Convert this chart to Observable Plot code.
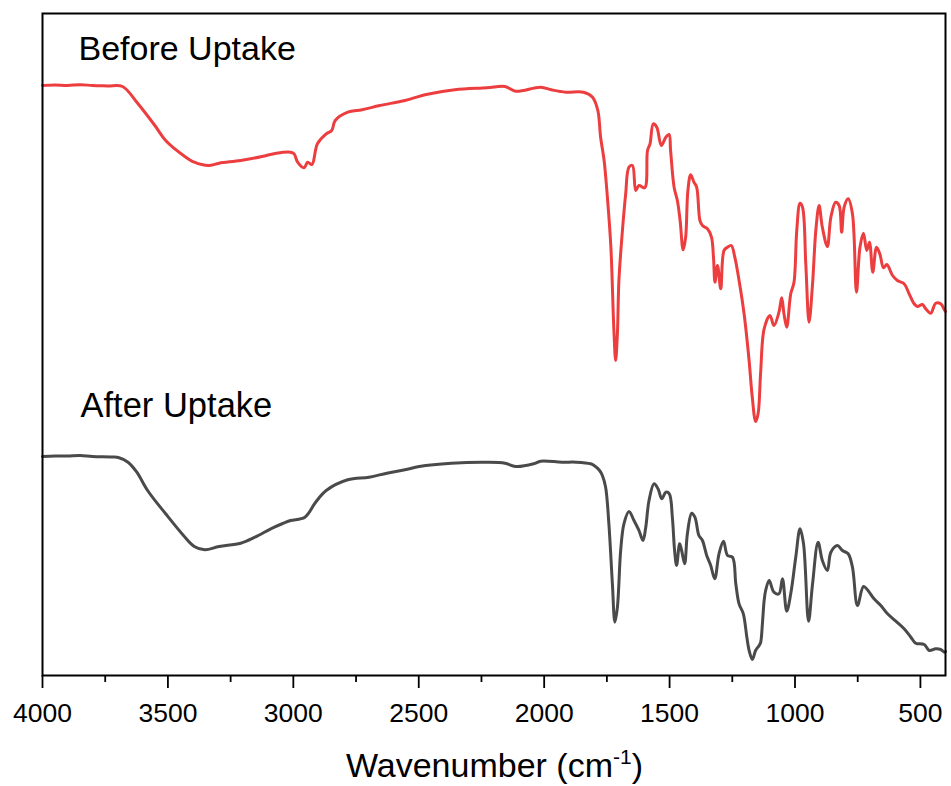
<!DOCTYPE html>
<html>
<head>
<meta charset="utf-8">
<script src="https://cdn.jsdelivr.net/npm/d3@7"></script>
<script src="https://cdn.jsdelivr.net/npm/@observablehq/plot@0.6"></script>
<style>
  html, body { margin: 0; padding: 0; background: #fff; }
  #chart { width: 951px; height: 786px; }
</style>
</head>
<body>
<div id="chart"></div>
<script>
// Series names (annotations)
const seriesNames = ["Before Uptake", "After Uptake"];

// Axis tick values (wavenumber, cm-1)
const majorTicks = [4000, 3500, 3000, 2500, 2000, 1500, 1000, 500];
const minorTicks = [3750, 3250, 2750, 2250, 1750, 1250, 750];

// Axis title parts
const xLabelMain = "Wavenumber (cm";
const xLabelSup = "-1";
const xLabelEnd = ")";

// "Before Uptake" spectrum: [wavenumber, transmittance (a.u.)]
const beforeSpectrum = [
  [4000,590],[3950,590.5],[3900,590],[3850,590.8],[3800,590],[3740,589.5],[3681,589],[3624,573.3],[3552,550],[3509,535],
  [3438,520],[3395,513.3],[3338,510],[3296,512.3],[3210,515],[3125,519],[3068,522.3],[3011,523.3],[2997,521.7],
  [2983,513.3],[2957,507.7],[2943,513.3],[2926,511],[2904,531.7],[2869,541.7],[2847,545],[2833,555],[2783,563.3],
  [2726,565.7],[2655,570],[2555,575],[2470,581],[2356,585.7],[2228,587.7],[2156,589],[2114,584.3],[2014,588.3],
  [1971,585.7],[1914,583.3],[1843,583.3],[1807,578.3],[1786,565],[1775,538.3],[1761,515],[1748,478.3],[1734,428.3],
  [1722,345],[1715,315],[1708,342],[1702,395],[1688,445],[1675,481.7],[1662,508.3],[1648,510],[1635,485],[1622,490],
  [1599,487.7],[1588,525],[1578,531.7],[1565,551.7],[1551,548.3],[1533,530],[1515,538.3],[1502,541],[1496,525],
  [1482,488.3],[1469,475],[1458,455],[1446,425.7],[1436,438.3],[1427,485],[1416,500.7],[1403,493.3],[1392,488.3],
  [1379,455],[1369,450],[1349,446.7],[1333,438.3],[1325,418.3],[1319,393.3],[1309,410],[1296,386.7],[1283,425],
  [1269,428.3],[1254,430],[1240,418.3],[1223,395],[1203,361.7],[1183,315],[1171,280],[1157,254],[1147,262],
  [1137,303],[1123,346.7],[1100,360],[1084,350],[1064,363.3],[1053,377.7],[1044,361.7],[1033,348.3],[1017,381.7],
  [1004,393.3],[993,445],[980,472.3],[970,468.3],[957,411.7],[944,353.3],[930,391.7],[917,445],[904,470],[891,448.3],
  [871,429],[857,458.3],[838,473.3],[824,470],[814,443.3],[804,468.3],[788,476.7],[771,461.7],[755,383.3],[741,428.3],
  [727,442.3],[714,425],[703,433.3],[690,403.3],[675,428.3],[662,421.7],[647,407.7],[634,411],[611,400],[592,395],
  [565,391.7],[545,381.7],[525,371.7],[512,369],[492,371],[479,366.7],[459,362.3],[439,372.3],[419,371.7],[403,365],[400,364]
];

// "After Uptake" spectrum: [wavenumber, transmittance (a.u.)]
const afterSpectrum = [
  [4000,219],[3950,219.6],[3900,219.5],[3850,220],[3800,219],[3720,218.5],[3695,217.7],[3659,213.3],[3624,203.3],[3581,185],
  [3509,161.7],[3438,140],[3395,129],[3353,125.7],[3296,129],[3210,132.3],[3153,138.3],[3082,147.7],[3039,152.3],
  [3011,155],[2954,158.3],[2911,173.3],[2869,185],[2783,195.7],[2698,198.3],[2627,202.3],[2555,205.7],[2498,209],
  [2370,212.3],[2228,213.3],[2156,212.3],[2114,209],[2042,211.7],[2014,214.3],[1929,213.3],[1872,213.3],[1815,211.7],
  [1801,210],[1779,205],[1768,200],[1755,188.3],[1742,151.7],[1728,91.7],[1718,53.3],[1708,68.3],[1695,125],
  [1682,151.7],[1662,164],[1642,155],[1622,145],[1606,135],[1595,148.3],[1582,175],[1562,191.7],[1546,186.7],
  [1531,176.7],[1515,183.3],[1501,181.7],[1489,158.3],[1480,125],[1472,110],[1460,131.7],[1452,125],[1440,111.7],
  [1429,141.7],[1412,162.3],[1399,158.3],[1383,140],[1369,135],[1352,120],[1336,110],[1320,96.7],[1303,121.7],
  [1285,134.3],[1269,120],[1249,118.3],[1236,91.7],[1223,71.7],[1206,61.7],[1192,38.3],[1183,25],[1170,16],
  [1157,25],[1143,30],[1137,33],[1130,51.7],[1123,75],[1117,85],[1103,95],[1084,83.3],[1064,81.7],[1050,96.7],
  [1033,64.3],[1017,81.7],[997,118.3],[980,146.7],[966,131.7],[946,54.3],[930,91.7],[908,133.3],[891,115],[871,105],
  [857,123.3],[831,130],[811,125],[788,121.7],[771,108.3],[751,70],[727,89],[709,85],[685,76.7],[658,70],[631,61.7],
  [598,54.3],[565,46.7],[538,38.3],[519,32.3],[485,31],[465,25],[439,26.7],[419,26],[403,23.3],[400,24]
];

const table = [
  ...beforeSpectrum.map(([w, t]) => ({series: seriesNames[0], w, t})),
  ...afterSpectrum.map(([w, t]) => ({series: seriesNames[1], w, t}))
];

const W = 951, H = 786;
const mL = 42, mR = 6, mT = 13, mB = 111;
const font = "'Liberation Sans', Arial, Helvetica, sans-serif";

const svg = Plot.plot({
  width: W,
  height: H,
  marginLeft: mL,
  marginRight: mR,
  marginTop: mT,
  marginBottom: mB,
  style: {fontFamily: font, fontSize: "26px", color: "black", background: "white"},
  x: {domain: [4000, 400]},
  y: {domain: [0, 662], axis: null},
  color: {domain: seriesNames, range: ["#ec3d3f", "#4a4a4a"]},
  marks: [
    Plot.line(table, {x: "w", y: "t", z: "series", stroke: "series", strokeWidth: 3, curve: "catmull-rom"}),
    Plot.axisX({ticks: majorTicks, tickSize: 13, tickPadding: 15, tickFormat: "d", strokeWidth: 1.8, fontSize: 26.5, label: null}),
    Plot.axisX({ticks: minorTicks, tickSize: 7, tickFormat: () => "", strokeWidth: 1.8, label: null}),
    Plot.frame({stroke: "black", strokeWidth: 2}),
    Plot.text([seriesNames[0]], {text: d => d, frameAnchor: "top-left", dx: 36, dy: 22, lineAnchor: "top", textAnchor: "start", fontSize: 34, fill: "black"}),
    Plot.text([seriesNames[1]], {text: d => d, frameAnchor: "top-left", dx: 38, dy: 379, lineAnchor: "top", textAnchor: "start", fontSize: 34.5, fill: "black"})
  ]
});

// Axis title with superscript
const title = d3.select(svg).append("text")
  .attr("x", (mL + W - mR) / 2 + 1)
  .attr("y", 777)
  .attr("text-anchor", "middle")
  .attr("font-size", 34)
  .attr("font-family", font)
  .attr("fill", "black");
title.append("tspan").text(xLabelMain);
title.append("tspan").attr("dy", -13).attr("font-size", 21).text(xLabelSup);
title.append("tspan").attr("dy", 13).text(xLabelEnd);

document.getElementById("chart").appendChild(svg);
</script>
</body>
</html>
